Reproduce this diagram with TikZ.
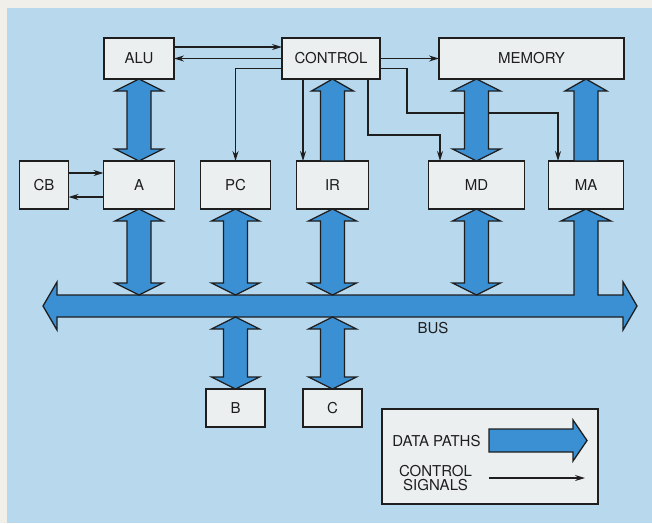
\documentclass[tikz,border=0pt]{standalone}
\usepackage{fontspec}
\setmainfont{TeX Gyre Heros}
\usetikzlibrary{positioning, calc, arrows.meta}

\definecolor{paper}{RGB}{240,239,234}
\definecolor{bgblue}{RGB}{184,216,238}
\definecolor{boxwhite}{RGB}{236,239,240}
\definecolor{pathblue}{RGB}{58,144,210}
\definecolor{ink}{RGB}{30,30,30}

% fat data paths: both ends (top, bottom), one end up (from, to), one end right (from, to)
\newcommand{\dpboth}[2]{%
  \path[datapath] let \p1=(#1), \p2=(#2) in
    (\x1,\y1) -- (\x1+24pt,\y1-12pt) -- (\x1+12pt,\y1-12pt) -- (\x1+12pt,\y2+12pt)
    -- (\x1+24pt,\y2+12pt) -- (\x1,\y2) -- (\x1-24pt,\y2+12pt) -- (\x1-12pt,\y2+12pt)
    -- (\x1-12pt,\y1-12pt) -- (\x1-24pt,\y1-12pt) -- cycle;}
\newcommand{\dpup}[2]{%
  \path[datapath] let \p1=(#1), \p2=(#2) in
    (\x1-12pt,\y1) -- (\x1-12pt,\y2-12pt) -- (\x1-21pt,\y2-12pt) -- (\x1,\y2)
    -- (\x1+21pt,\y2-12pt) -- (\x1+12pt,\y2-12pt) -- (\x1+12pt,\y1) -- cycle;}
\newcommand{\dpright}[2]{%
  \path[datapath] let \p1=(#1), \p2=(#2) in
    (\x1,\y1+11.5pt) -- (\x2-14pt,\y1+11.5pt) -- (\x2-14pt,\y1+20.5pt) -- (\x2,\y1)
    -- (\x2-14pt,\y1-20.5pt) -- (\x2-14pt,\y1-11.5pt) -- (\x1,\y1-11.5pt) -- cycle;}

\begin{document}
\begin{tikzpicture}[
    x=1pt, y=-1pt,
    box/.style={draw=ink, fill=boxwhite, line width=1.2pt, rectangle, inner sep=0pt,
      outer sep=0pt, minimum height=48pt, text=ink, font=\fontsize{15}{17}\selectfont},
    label/.style={text=ink, align=center, font=\fontsize{15}{14}\selectfont},
    ctrl/.style={draw=ink, line width=1.3pt, -{Stealth[length=10pt,width=6pt]}},
    datapath/.style={draw=ink, fill=pathblue, line width=1.3pt, line join=miter}
]
\useasboundingbox (0,0) rectangle (652,523);
\fill[paper] (0,0) rectangle (652,523);
\fill[bgblue] (7,8) rectangle (652,523);

\node[box, minimum width=70pt, minimum height=41pt] (alu) at (139,58.5) {ALU};
\node[box, minimum width=98pt, minimum height=41pt, right=108pt of alu] (control) {CONTROL};
\node[box, minimum width=185pt, minimum height=41pt, right=59pt of control] (memory) {MEMORY};
\node[box, minimum width=71pt, below=82pt of alu] (a) {A};
\node[box, minimum width=49pt, left=35pt of a] (cb) {CB};
\node[box, minimum width=70pt, right=26pt of a] (pc) {PC};
\node[box, minimum width=72pt, right=26pt of pc] (ir) {IR};
\node[box, minimum width=96pt, right=60pt of ir] (md) {MD};
\node[box, minimum width=75pt, right=24pt of md] (ma) {MA};
\node[box, minimum width=59pt, minimum height=38pt, below=180pt of pc] (b) {B};
\node[box, minimum width=59pt, minimum height=38pt, below=180pt of ir] (c) {C};

% control signals
\draw[ctrl] ($(alu.east)+(0,-11.5)$) -- ($(control.west)+(0,-11.5)$);
\draw[ctrl] (control.west) -- (alu.east);
\draw[ctrl] ($(control.west)+(0,10)$) -| (pc.north);
\draw[ctrl] ($(control.south)+(-28,0)$) coordinate (irctl) -- (irctl |- ir.north);
\draw[ctrl] (control.east) -- (memory.west);
\draw[ctrl] ($(control.east)+(0,10)$) -| (407,113) -| ($(ma.north)+(-28,0)$);
\draw[ctrl] ($(control.south)+(37,0)$) |- ($(md.north)+(-36.5,-26)$) -- ($(md.north)+(-36.5,0)$);
\draw[ctrl] ($(cb.east)+(0,-12)$) -- ($(a.west)+(0,-12)$);
\draw[ctrl] ($(a.west)+(0,12)$) -- ($(cb.east)+(0,12)$);

% bus
\coordinate (busw) at (43,306);
\coordinate (buse) at (637,306);
\coordinate (bustop) at (0,295);
\coordinate (busbot) at (0,317);
\path[datapath] let \p1=(busw), \p2=(buse), \p3=(ma.south) in
  (\x1,\y1) -- (\x1+14pt,\y1+24pt) -- (\x1+14pt,\y1+11pt) -- (\x3-12pt,\y1+11pt)
  -- (\x3-12pt,\y3-12pt) -- (\x3-25pt,\y3-12pt) -- (\x3,\y3) -- (\x3+25pt,\y3-12pt)
  -- (\x3+12pt,\y3-12pt) -- (\x3+12pt,\y1+11pt) -- (\x2-14pt,\y1+11pt)
  -- (\x2-14pt,\y1+24pt) -- (\x2,\y1) -- (\x2-14pt,\y1-24pt) -- (\x2-14pt,\y1-11pt)
  -- (\x1+14pt,\y1-11pt) -- (\x1+14pt,\y1-24pt) -- cycle;
\node[label] (buslabel) at (433,328) {BUS};

% data paths
\dpboth{alu.south}{a.north}
\dpboth{a.south}{a.south |- bustop}
\dpboth{pc.south}{pc.south |- bustop}
\dpboth{ir.south}{ir.south |- bustop}
\dpboth{md.south}{md.south |- bustop}
\dpboth{md.north |- memory.south}{md.north}
\dpup{ma.north}{ma.north |- memory.south}
\dpup{ir.north}{ir.north |- control.south}
\dpboth{b.north |- busbot}{b.north}
\dpboth{c.north |- busbot}{c.north}

% legend
\node[box, minimum width=216pt, minimum height=95pt] (legend) at (490,456.5) {};
\node[label] (dplabel) at (436.5,441) {DATA PATHS};
\node[label] (cslabel) at (435.5,478.5) {CONTROL\\SIGNALS};
\coordinate (dpstart) at (489,440.5);
\coordinate (dpend) at (587,440.5);
\coordinate (csstart) at (489,478);
\coordinate (csend) at (585,478);
\dpright{dpstart}{dpend}
\draw[ctrl] (csstart) -- (csend);
\end{tikzpicture}
\end{document}
